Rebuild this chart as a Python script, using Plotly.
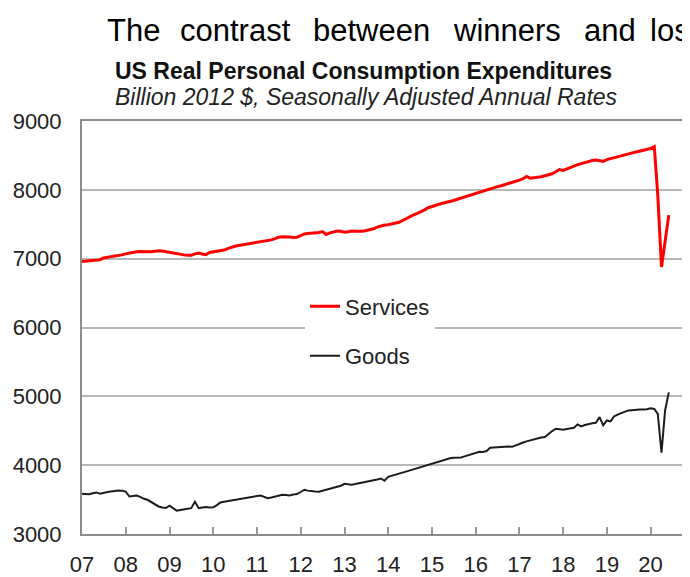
import pandas as pd
import plotly.graph_objects as go

# ---- data (Billion 2012 $, monthly, Jan 2007 - Jun 2020) ----
services = [
    6960, 6965, 6968, 6972, 6980, 6985, 7010, 7025, 7030, 7040, 7045, 7055,   # 2007
    7070, 7082, 7090, 7100, 7105, 7102, 7096, 7100, 7108, 7115, 7110, 7100,   # 2008
    7086, 7075, 7065, 7062, 7055, 7048, 7050, 7070, 7082, 7068, 7058, 7090,   # 2009
    7098, 7102, 7110, 7125, 7145, 7168, 7180, 7192, 7201, 7210, 7216, 7222,   # 2010
    7232, 7240, 7252, 7265, 7273, 7290, 7312, 7318, 7321, 7315, 7307, 7312,   # 2011
    7335, 7360, 7365, 7368, 7370, 7380, 7393, 7352, 7375, 7390, 7403, 7398,   # 2012
    7384, 7392, 7403, 7400, 7398, 7398, 7408, 7417, 7435, 7458, 7479, 7488,   # 2013
    7494, 7505, 7515, 7528, 7555, 7586, 7610, 7635, 7658, 7680, 7710, 7740,   # 2014
    7760, 7777, 7790, 7805, 7816, 7830, 7845, 7863, 7880, 7895, 7911, 7930,   # 2015
    7950, 7965, 7983, 8005, 8022, 8035, 8046, 8060, 8075, 8089, 8105, 8125,   # 2016
    8141, 8161, 8194, 8170, 8175, 8182, 8190, 8205, 8220, 8233, 8262, 8295,   # 2017
    8281, 8305, 8328, 8345, 8365, 8381, 8398, 8414, 8425, 8434, 8428, 8414,   # 2018
    8440, 8455, 8472, 8485, 8498, 8511, 8524, 8537, 8549, 8563, 8578, 8592,   # 2019
    8600, 8628, 7920, 6880, 7260, 7633,                                       # 2020
]
goods = [
    3585, 3582, 3579, 3592, 3604, 3585, 3600, 3610, 3617, 3625, 3631, 3628,   # 2007
    3617, 3545, 3550, 3559, 3540, 3511, 3497, 3460, 3425, 3400, 3385, 3377,   # 2008
    3411, 3375, 3339, 3350, 3362, 3367, 3375, 3468, 3377, 3385, 3391, 3385,   # 2009
    3387, 3420, 3459, 3470, 3480, 3488, 3495, 3503, 3511, 3522, 3535, 3545,   # 2010
    3552, 3559, 3540, 3520, 3530, 3545, 3555, 3569, 3565, 3561, 3575, 3580,   # 2011
    3610, 3643, 3630, 3619, 3616, 3614, 3628, 3640, 3652, 3665, 3676, 3700,   # 2012
    3729, 3722, 3715, 3725, 3735, 3743, 3752, 3763, 3778, 3792, 3806, 3773,   # 2013
    3830, 3849, 3862, 3877, 3892, 3908, 3924, 3940, 3955, 3972, 3988, 4005,   # 2014
    4026, 4042, 4058, 4074, 4090, 4100, 4108, 4110, 4112, 4128, 4145, 4161,   # 2015
    4178, 4194, 4192, 4205, 4252, 4257, 4262, 4270, 4276, 4270, 4266, 4290,   # 2016
    4314, 4330, 4346, 4362, 4380, 4396, 4403, 4410, 4458, 4495, 4530, 4525,   # 2017
    4516, 4525, 4535, 4544, 4593, 4564, 4583, 4602, 4610, 4616, 4698, 4578,   # 2018
    4650, 4636, 4708, 4735, 4760, 4778, 4794, 4802, 4809, 4810, 4809, 4812,   # 2019
    4827, 4817, 4746, 4180, 4794, 5058,                                       # 2020
]
start_month = "2007-01-01"
year_ticks = [str(y) for y in range(2007, 2021)]
year_labels = ["07", "08", "09", "10", "11", "12", "13", "14", "15", "16", "17", "18", "19", "20"]
y_ticks = [3000, 4000, 5000, 6000, 7000, 8000, 9000]

dates = pd.date_range(start_month, periods=len(services), freq="MS")

OFF = 8                      # page body margin offset
W, H = 690 - OFF, 577 - OFF  # figure size so it ends at the window edge
# target pixel positions in the window
L, R, T, B = 82, 690, 121, 538
FONT = "Liberation Sans, Arial, sans-serif"


def px(x):
    return (x - L) / (R - L)


def py(y):
    return (B - y) / (B - T)


fig = go.Figure()
fig.add_trace(go.Scatter(x=dates, y=services, mode="lines", name="Services",
                         line=dict(color="#ff0000", width=3), legendgroup="s"))
fig.add_trace(go.Scatter(x=dates, y=goods, mode="lines", name="Goods",
                         line=dict(color="#1c1c1c", width=2), legendgroup="g"))

annotations = []
# headline words (justified text)
words = [("The", 105), ("contrast", 178), ("between", 311), ("winners", 451), ("and", 582), ("los", 648)]
for w, x in words:
    annotations.append(dict(text=w, x=px(x), y=py(30), xref="paper", yref="paper",
                            xanchor="left", yanchor="middle", showarrow=False,
                            font=dict(family=FONT, size=31, color="#000000")))
annotations.append(dict(text="<b>US Real Personal Consumption Expenditures</b>",
                        x=px(363), y=py(71), xref="paper", yref="paper",
                        xanchor="center", yanchor="middle", showarrow=False,
                        font=dict(family=FONT, size=23, color="#111111")))
annotations.append(dict(text="<i>Billion 2012 $, Seasonally Adjusted Annual Rates</i>",
                        x=px(366), y=py(97), xref="paper", yref="paper",
                        xanchor="center", yanchor="middle", showarrow=False,
                        font=dict(family=FONT, size=23, color="#222222")))

fig.update_layout(
    width=W, height=H,
    margin=dict(l=L - OFF, r=(690 - OFF) - (R - OFF), t=T - OFF, b=(577 - OFF) - (B - OFF), pad=0),
    paper_bgcolor="white", plot_bgcolor="white",
    font=dict(family=FONT, size=22, color="#222222"),
    showlegend=True,
    legend=dict(x=px(305), y=py(287), xanchor="left", yanchor="top",
                bgcolor="white", borderwidth=0, tracegroupgap=18,
                font=dict(family=FONT, size=22, color="#222222"),
                itemwidth=30),
    annotations=annotations,
)
fig.update_xaxes(
    type="date",
    range=["2007-01-01", "2020-11-25"],
    tickvals=year_ticks, ticktext=year_labels,
    ticks="inside", ticklen=7, tickwidth=1.5, tickcolor="#9a9a9a",
    showline=True, linecolor="#8c8c8c", linewidth=2, mirror=True,
    showgrid=False, zeroline=False,
    tickfont=dict(family=FONT, size=22, color="#222222"),
    ticklabelstandoff=10,
)
fig.update_yaxes(
    range=[3000, 9000], tickvals=y_ticks,
    showline=True, linecolor="#8c8c8c", linewidth=2,
    showgrid=True, gridcolor="#b8b8b8", gridwidth=1.5,
    zeroline=False, ticks="",
    tickfont=dict(family=FONT, size=22, color="#222222"),
    ticklabelstandoff=14,
)

fig.write_html("out.html")
